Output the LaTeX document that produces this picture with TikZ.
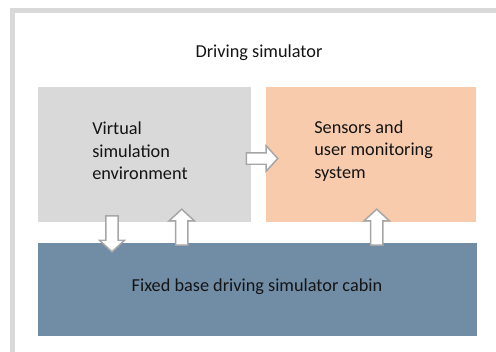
\documentclass[tikz,border=0pt]{standalone}
\usepackage{fontspec}
\setmainfont{Carlito}
\usetikzlibrary{shapes.arrows}
\definecolor{framegray}{HTML}{D9D9D9}
\definecolor{boxgray}{HTML}{D9D9D9}
\definecolor{boxpeach}{HTML}{F8CBAD}
\definecolor{boxslate}{HTML}{718DA6}
\definecolor{arrowedge}{HTML}{A6A6A6}
\definecolor{inktext}{HTML}{141414}
\tikzset{
  px/.style={x=0.75pt,y=-0.75pt},
  block/.style={draw=none,inner sep=0pt},
  label text/.style={font=\fontsize{13.7}{16.9}\selectfont,text=inktext,inner sep=0pt},
  blockarrow/.style={shape=single arrow,draw=arrowedge,fill=white,line width=1.1pt,
    inner sep=4pt,single arrow head extend=4.9pt,single arrow head indent=0pt,
    minimum height=27pt,single arrow tip angle=95},
}
\begin{document}
\begin{tikzpicture}[px]
  \useasboundingbox (0,0) rectangle (496,351);
  % outer frame, running past the page on the right and bottom
  \draw[framegray,line width=3.75pt] (12.5,370) -- (12.5,10.5) -- (520,10.5);
  \node[label text] (title) at (259,53) {Driving simulator};
  % the three blocks
  \node[block,minimum width=159.75pt,minimum height=101.25pt,fill=boxgray] (vse) at (144.5,154.5) {};
  \node[block,minimum width=157.5pt,minimum height=101.25pt,fill=boxpeach] (sens) at (371,154.5) {};
  \node[block,minimum width=329.25pt,minimum height=69.75pt,fill=boxslate] (cabin) at (257.5,289.5) {};
  % block texts
  \node[label text,align=left,anchor=west] (vsetext) at (92,151) {Virtual\\simulation\\environment};
  \node[label text,align=left,anchor=west] (senstext) at (314,151) {Sensors and\\user monitoring\\system};
  \node[label text] (cabintext) at (257,287) {Fixed base driving simulator cabin};
  % block arrows between the parts
  \node[blockarrow,minimum height=23.5pt,inner sep=3.75pt,single arrow head extend=5.25pt] (toSens) at (259.5,158.5) {};
  \node[blockarrow,rotate=-90] (toCabin) at (112,231) {};
  \node[blockarrow,rotate=90] (fromCabin) at (181.7,230) {};
  \node[blockarrow,rotate=90] (cabinToSens) at (376.7,230) {};
\end{tikzpicture}
\end{document}
